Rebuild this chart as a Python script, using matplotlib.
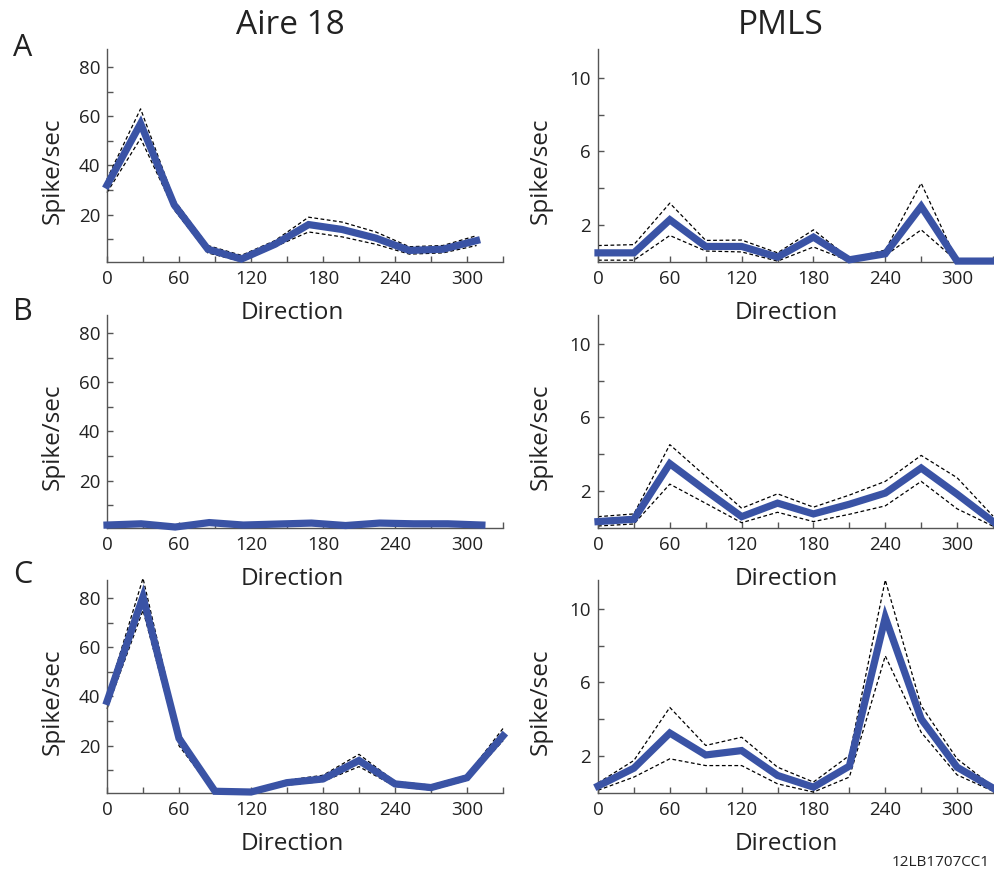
import matplotlib
matplotlib.use("Agg")
import matplotlib.pyplot as plt
import numpy as np

plt.rcParams['font.family'] = ['Open Sans', 'DejaVu Sans']

# ---------------------------------------------------------
# data (mean, upper / lower dashed bounds)
# ---------------------------------------------------------
dir_a18_A = [0, 28, 56, 84, 112, 140, 168, 196, 224, 252, 280, 308]
mean_a18_A = [32, 57, 24, 6, 2, 8, 16, 14, 10.5, 5.5, 6, 9.5]
up_a18_A = [34.5, 63, 26, 7.5, 3.5, 9.5, 19, 17, 13, 7, 7.5, 11.5]
lo_a18_A = [29, 51, 22, 4.5, 1, 7, 13, 11, 8, 4, 4.5, 7.5]

dir_a18_B = [0, 28.4, 56.8, 85.2, 113.6, 142, 170.4, 198.8, 227.2, 255.6, 284, 312.4]
mean_a18_B = [2.0, 2.5, 1.2, 3.0, 2.0, 2.4, 2.8, 1.8, 2.8, 2.5, 2.5, 2.0]
up_a18_B = [2.5, 3.0, 1.7, 3.5, 2.5, 2.9, 3.3, 2.3, 3.3, 3.0, 3.0, 2.5]
lo_a18_B = [1.5, 2.0, 0.8, 2.5, 1.5, 1.9, 2.3, 1.3, 2.3, 2.0, 2.0, 1.5]

dir_a18_C = [0, 30, 60, 90, 120, 150, 180, 210, 240, 270, 300, 330]
mean_a18_C = [38, 80.5, 23, 1.5, 1.2, 5, 6.5, 14, 4.5, 3, 7, 24]
up_a18_C = [40, 88, 25, 2, 2, 6, 8, 16.5, 5.5, 4, 8, 27]
lo_a18_C = [35, 75, 20, 0.8, 0.8, 4, 5.5, 11.5, 3.5, 2, 6, 22]

dir_pmls = [0, 30, 60, 90, 120, 150, 180, 210, 240, 270, 300, 330]

mean_pmls_A = [0.45, 0.45, 2.26, 0.8, 0.8, 0.22, 1.31, 0.07, 0.4, 2.99, 0.0, 0.0]
up_pmls_A = [0.85, 0.9, 3.17, 1.13, 1.15, 0.45, 1.71, 0.15, 0.6, 4.26, 0.0, 0.0]
lo_pmls_A = [0.05, 0.05, 1.4, 0.55, 0.5, 0.0, 0.77, 0.0, 0.3, 1.71, 0.0, 0.0]

mean_pmls_B = [0.3, 0.43, 3.47, 2.0, 0.57, 1.31, 0.72, 1.25, 1.86, 3.23, 1.8, 0.3]
up_pmls_B = [0.57, 0.72, 4.51, 2.77, 1.03, 1.82, 1.09, 1.75, 2.5, 3.92, 2.7, 0.6]
lo_pmls_B = [0.06, 0.17, 2.35, 1.3, 0.24, 0.81, 0.3, 0.7, 1.16, 2.5, 1.0, 0.05]

mean_pmls_C = [0.33, 1.31, 3.23, 2.03, 2.27, 0.91, 0.27, 1.42, 9.55, 4.0, 1.36, 0.22]
up_pmls_C = [0.5, 1.73, 4.63, 2.55, 3.0, 1.36, 0.55, 2.0, 11.6, 4.72, 1.82, 0.3]
lo_pmls_C = [0.1, 0.82, 1.82, 1.45, 1.45, 0.45, 0.0, 0.82, 7.45, 3.27, 0.94, 0.05]

panels = [
    (0, 0, dir_a18_A, mean_a18_A, up_a18_A, lo_a18_A),
    (1, 0, dir_a18_B, mean_a18_B, up_a18_B, lo_a18_B),
    (2, 0, dir_a18_C, mean_a18_C, up_a18_C, lo_a18_C),
    (0, 1, dir_pmls, mean_pmls_A, up_pmls_A, lo_pmls_A),
    (1, 1, dir_pmls, mean_pmls_B, up_pmls_B, lo_pmls_B),
    (2, 1, dir_pmls, mean_pmls_C, up_pmls_C, lo_pmls_C),
]

BLUE = '#3a53a5'
AXC = '#555555'
TXT = '#222222'

fig = plt.figure(figsize=(9.94, 8.73), dpi=100)

col_x = [107 / 994, 598 / 994]
col_w = [396 / 994, 395 / 994]
row_bottom = [262, 528, 793]
row_h = 213 / 873

for row, col, d, m, up, lo in panels:
    ax = fig.add_axes([col_x[col], 1 - row_bottom[row] / 873, col_w[col], row_h])
    ax.patch.set_visible(False)  # so labels of the row above stay visible
    ax.plot(d, up, color='black', lw=0.9, ls=(0, (3, 2)), clip_on=False, zorder=2)
    ax.plot(d, lo, color='black', lw=0.9, ls=(0, (3, 2)), clip_on=False, zorder=2)
    ax.plot(d, m, color=BLUE, lw=5.2, solid_joinstyle='miter', clip_on=False, zorder=3)

    ax.set_xlim(0, 330)
    ax.set_xticks(np.arange(0, 331, 30))
    ax.set_xticklabels([str(v) if v % 60 == 0 else '' for v in range(0, 331, 30)])

    if col == 0:
        ax.set_ylim(0.8, 87.3)
        yt = np.arange(10, 81, 10)
        ax.set_yticks(yt)
        ax.set_yticklabels([str(v) if v % 20 == 0 else '' for v in yt])
    else:
        ax.set_ylim(-0.05, 11.6)
        yt = np.arange(2, 11, 2)
        ax.set_yticks(yt)
        ax.set_yticklabels(['2', '', '6', '', '10'])

    for s in ['top', 'right']:
        ax.spines[s].set_visible(False)
    for s in ['left', 'bottom']:
        ax.spines[s].set_color(AXC)
        ax.spines[s].set_linewidth(1.0)
    ax.tick_params(direction='in', length=4, width=1, color=AXC,
                   labelsize=13.5, labelcolor=TXT)
    ax.tick_params(axis='x', pad=6)
    ax.tick_params(axis='y', pad=5)

    ax.set_xlabel('Direction', fontsize=17.5, color=TXT)
    ax.set_ylabel('Spike/sec', fontsize=17.5, color=TXT)
    if col == 0:
        ax.xaxis.set_label_coords(0.467, -0.183)
        ax.yaxis.set_label_coords(-0.106, 0.43)
    else:
        ax.xaxis.set_label_coords(0.478, -0.183)
        ax.yaxis.set_label_coords(-0.114, 0.43)

# column titles and panel letters
fig.text(290 / 994, 1 - 25 / 873, 'Aire 18', fontsize=24, ha='center', va='center', color=TXT)
fig.text(781 / 994, 1 - 25 / 873, 'PMLS', fontsize=24, ha='center', va='center', color=TXT)
for letter, ypx in [('A', 48), ('B', 312), ('C', 575)]:
    fig.text(23 / 994, 1 - ypx / 873, letter, fontsize=22, ha='center', va='center', color=TXT)

fig.text(990 / 994, 1 - 862 / 873, '12LB1707CC1', fontsize=11, ha='right', va='center', color=TXT)

fig.savefig('out.png', dpi=100)
